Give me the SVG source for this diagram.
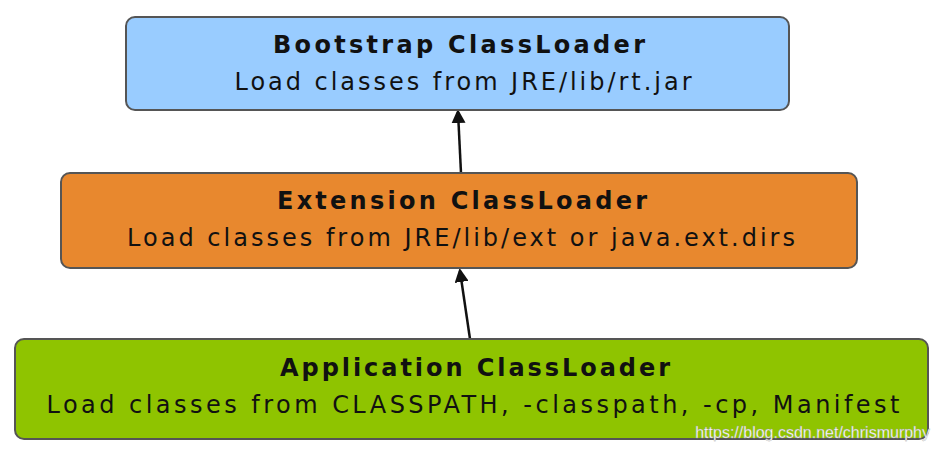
<svg xmlns="http://www.w3.org/2000/svg" width="940" height="452" viewBox="0 0 940 452">
<style>
.box{stroke:#555;stroke-width:2}
.t{font-family:"DejaVu Sans",Verdana,sans-serif;font-size:24px;fill:#111;text-anchor:middle}
.b{font-weight:bold}
.c{stroke:#111;stroke-width:2.5;fill:none;marker-end:url(#ah)}
</style>
<defs><marker id="ah" markerWidth="14" markerHeight="14" refX="11" refY="7" orient="auto" markerUnits="userSpaceOnUse"><path d="M0,0 L14,7 L0,14 z" fill="#111"/></marker></defs>
<rect width="940" height="452" fill="#fff"/>
<g id="connectors">
<line class="c" x1="470" y1="339" x2="460" y2="271"/>
<line class="c" x1="461" y1="173" x2="458" y2="112"/>
</g>
<g id="bootstrap">
<rect class="box" x="126" y="17" width="663" height="93" rx="9" fill="#99ccff"/>
<text class="t b" x="459" y="53" textLength="372" lengthAdjust="spacing">Bootstrap ClassLoader</text>
<text class="t" x="463" y="90" textLength="457" lengthAdjust="spacing">Load classes from JRE/lib/rt.jar</text>
</g>
<g id="extension">
<rect class="box" x="61" y="173" width="796" height="95" rx="9" fill="#e8882e"/>
<text class="t b" x="462" y="209" textLength="370" lengthAdjust="spacing">Extension ClassLoader</text>
<text class="t" x="461" y="246" textLength="668" lengthAdjust="spacing">Load classes from JRE/lib/ext or java.ext.dirs</text>
</g>
<g id="application">
<rect class="box" x="15" y="339" width="913" height="100" rx="9" fill="#8fc400"/>
<text class="t b" x="475" y="376" textLength="390" lengthAdjust="spacing">Application ClassLoader</text>
<text class="t" x="473" y="413" textLength="853" lengthAdjust="spacing">Load classes from CLASSPATH, -classpath, -cp, Manifest</text>
</g>
<text x="930" y="438" text-anchor="end" font-family="Liberation Sans,Arial,sans-serif" font-size="16" fill="#fff" stroke="#999" stroke-width="0.3">https://blog.csdn.net/chrismurphy</text>
</svg>
